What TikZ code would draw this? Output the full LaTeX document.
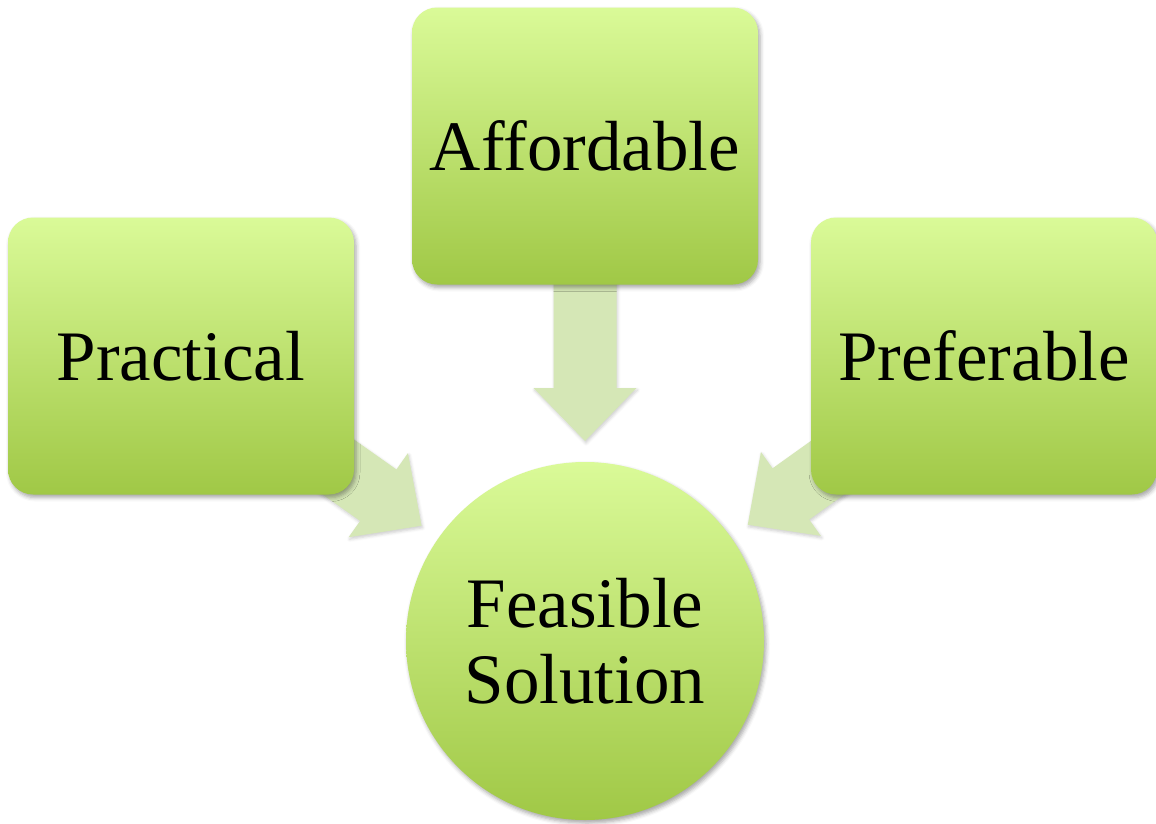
\documentclass[tikz,border=0pt]{standalone}
\usepackage{fontspec}
\setmainfont{Liberation Serif}
\usetikzlibrary{calc,backgrounds,shadows.blur}
\definecolor{boxtop}{RGB}{218,250,152}
\definecolor{boxbottom}{RGB}{160,200,70}
\definecolor{arrowgreen}{RGB}{213,231,182}
\newcommand\flowarrow[2]{%
 \draw[flow] ($(#1)!31.5pt!90:(#2)$)
  -- ($($(#2)!53pt!(#1)$)!31.5pt!-90:(#1)$)
  -- ($($(#2)!53pt!(#1)$)!51.5pt!-90:(#1)$)
  -- (#2)
  -- ($($(#2)!53pt!(#1)$)!51.5pt!90:(#1)$)
  -- ($($(#2)!53pt!(#1)$)!31.5pt!90:(#1)$)
  -- ($(#1)!31.5pt!-90:(#2)$) -- cycle;}

\begin{document}
\begin{tikzpicture}[x=1pt,y=-1pt,
 box/.style={rounded corners=25pt, minimum width=346pt, minimum height=277pt, inner sep=0pt,
  top color=boxtop, bottom color=boxbottom, font=\fontsize{71pt}{76pt}\selectfont, align=center,
  blur shadow={shadow xshift=2pt, shadow yshift=-3pt, shadow blur radius=4pt, shadow opacity=35}},
 goal/.style={box, circle, minimum size=358pt},
 flow/.style={fill=arrowgreen, draw=none,
  blur shadow={shadow xshift=1pt, shadow yshift=-2pt, shadow blur radius=3pt, shadow opacity=20}}]
 \useasboundingbox (0,0) rectangle (1156,823);
 \node[box] (A) at (181,356) {Practical};
 \node[box] (B) at (585,146) {Affordable};
 \node[box] (C) at (984,356) {Preferable};
 \node[goal] (D) at (585,641) {Feasible\\Solution};
 \coordinate (tA) at ($(D.center)!200pt!(A.center)$);
 \coordinate (tB) at ($(D.center)!200pt!(B.center)$);
 \coordinate (tC) at ($(D.center)!200pt!(C.center)$);
 \begin{scope}[on background layer]
 \flowarrow{A.center}{tA}
 \flowarrow{B.center}{tB}
 \flowarrow{C.center}{tC}
 \end{scope}
\end{tikzpicture}
\end{document}
